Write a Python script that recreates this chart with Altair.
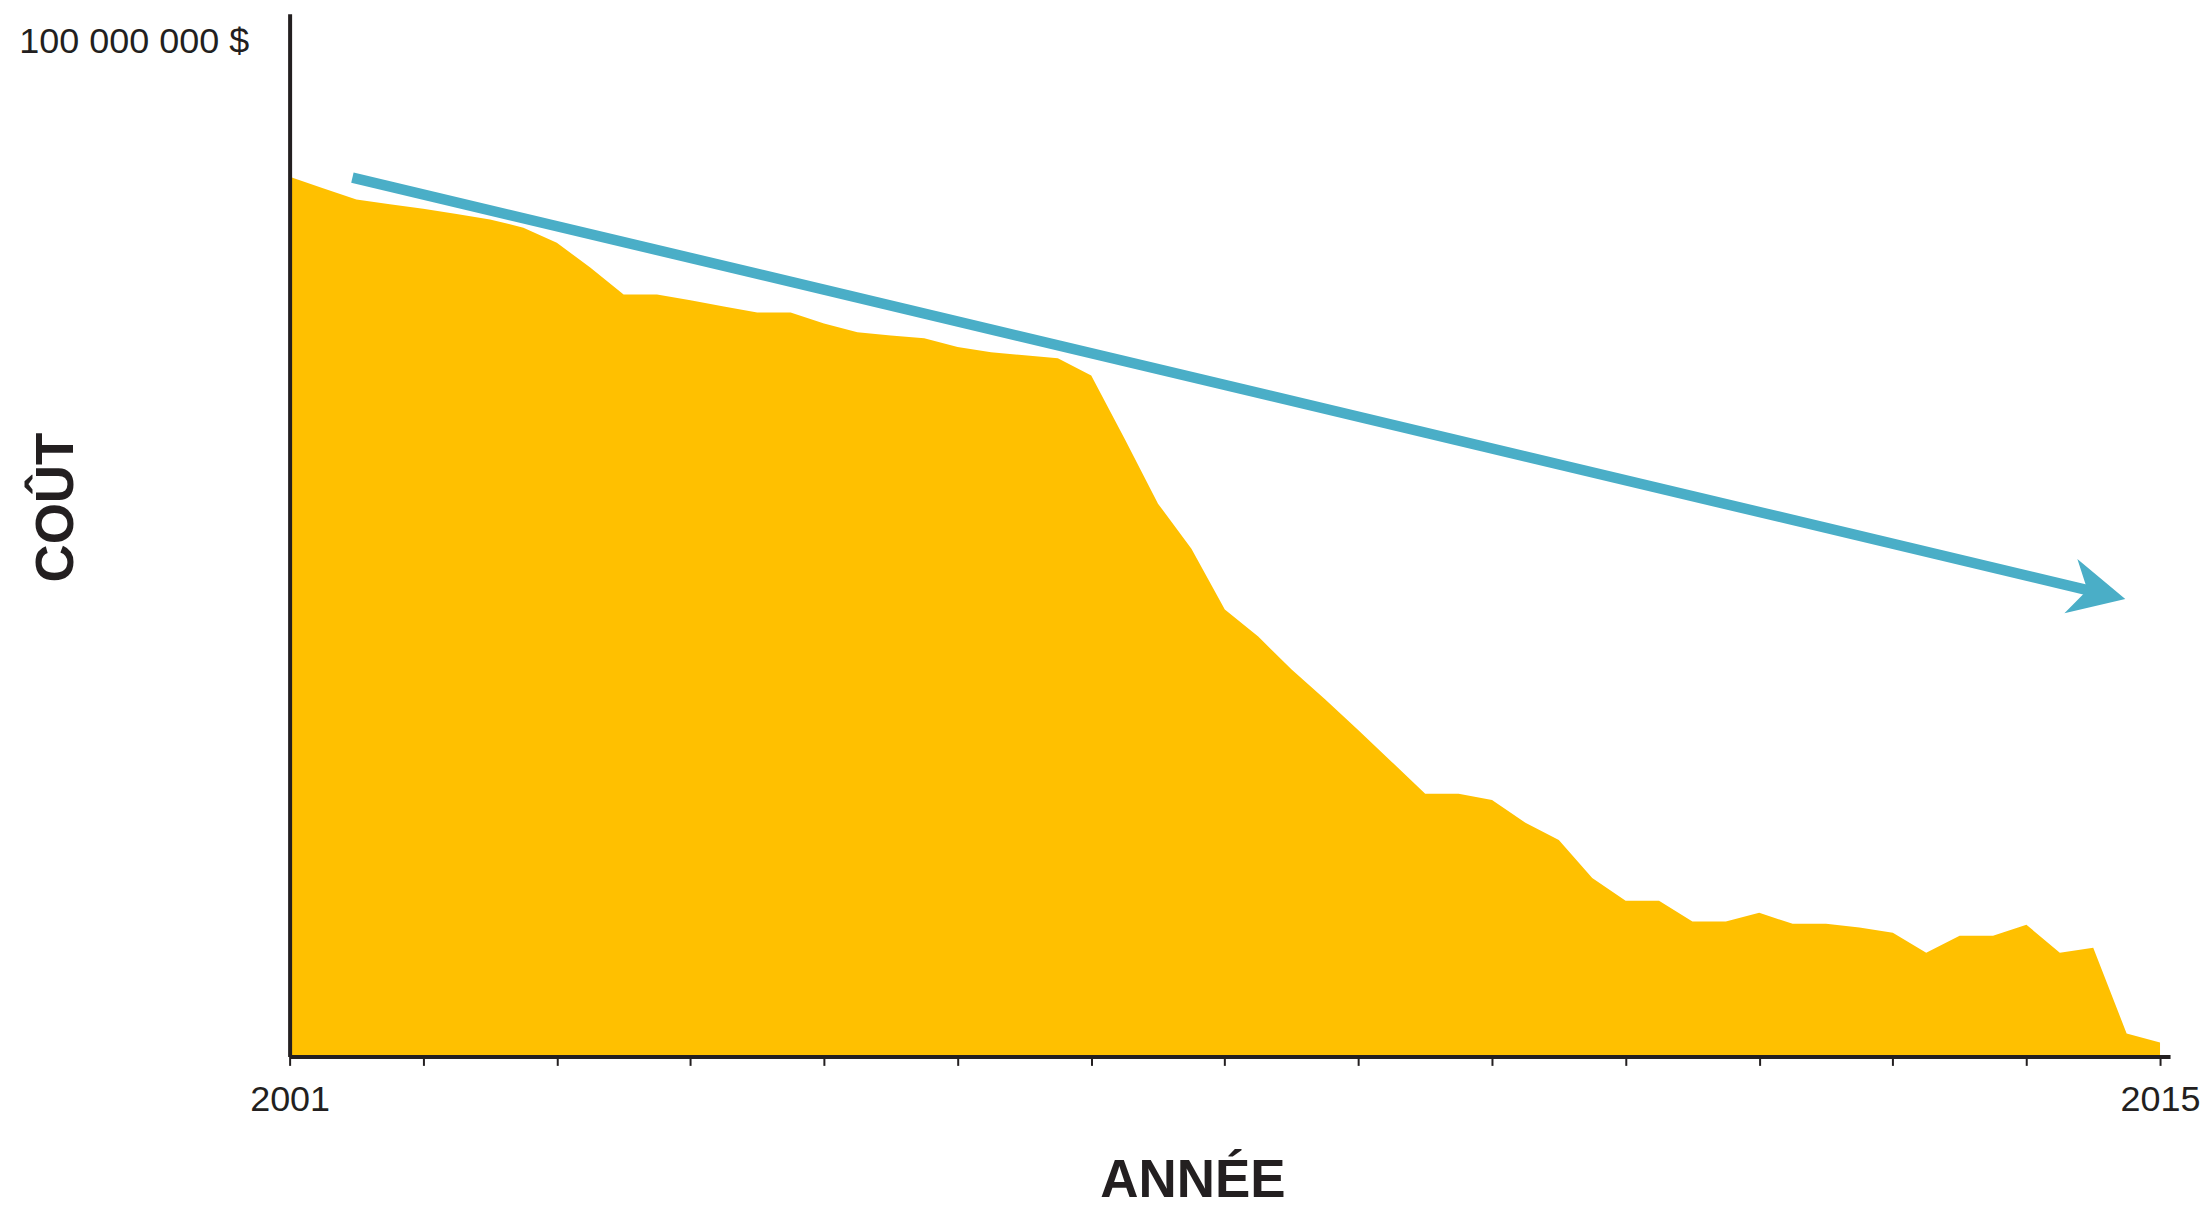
import altair as alt
import pandas as pd

# Quarterly cost data (millions of dollars), 2001 Q1 .. 2015 Q1
quarters = [2001 + i / 4 for i in range(57)]
cost_musd = [86.64, 85.52, 84.41, 83.95, 83.50, 82.98, 82.45, 81.63, 80.16, 77.70,
             75.05, 75.05, 74.49, 73.87, 73.28, 73.28, 72.20, 71.32, 71.02, 70.73,
             69.87, 69.35, 69.06, 68.76, 67.06, 60.83, 54.45, 50.00, 44.01, 41.36,
             38.11, 35.17, 32.12, 29.01, 25.86, 25.86, 25.25, 23.02, 21.32, 17.58,
             15.32, 15.32, 13.29, 13.29, 14.15, 13.06, 13.06, 12.70, 12.18, 10.22,
             11.89, 11.89, 12.97, 10.22, 10.71, 2.26, 1.38]

# Trend arrow (shaft start/end and tip)
trend_year = [2001.47, 2014.52]
trend_musd = [86.57, 45.74]
tip_year = [2014.74]
tip_musd = [45.05]

year_ticks = list(range(2001, 2016))
y_tick = [100_000_000]

df = pd.DataFrame({"annee": quarters, "cout": [v * 1e6 for v in cost_musd]})
df_trend = pd.DataFrame({"annee": trend_year, "cout": [v * 1e6 for v in trend_musd]})
df_tip = pd.DataFrame({"annee": tip_year, "cout": [v * 1e6 for v in tip_musd]})

INK = "#231f20"
FONT = "Liberation Sans"
BLUE = "#4AAEC7"

x_scale = alt.Scale(domain=[2001, 2015.075], nice=False, zero=False)
y_scale = alt.Scale(domain=[0, 102.7e6], nice=False, zero=True)

x_axis = alt.Axis(
    values=year_ticks, format="d",
    labelExpr="datum.value == 2001 || datum.value == 2015 ? datum.label : ''",
    labelFontSize=36, labelFont=FONT, labelColor=INK, labelPadding=17,
    labelAngle=0, labelFlush=False, labelOverlap=False,
    tickSize=9, tickWidth=2, tickColor=INK,
    domainWidth=4, domainColor=INK, grid=False, zindex=1,
    title="ANNÉE", titleX=904, titleY=140, titleAlign="center",
    titleBaseline="alphabetic", titleFontSize=53, titleFontWeight="bold",
    titleFont=FONT, titleColor=INK,
)
y_axis = alt.Axis(
    values=y_tick,
    labelExpr="replace(replace(format(datum.value, ',d'), ',', ' '), ',', ' ') + ' $'",
    labelFontSize=36, labelFont=FONT, labelColor=INK, labelPadding=41,
    labelBaseline="middle", labelLimit=500,
    ticks=False, domainWidth=4, domainColor=INK, grid=False, zindex=1,
    title="COÛT", titleX=-217, titleY=494, titleAngle=270, titleAlign="center",
    titleBaseline="alphabetic", titleFontSize=53, titleFontWeight="bold",
    titleFont=FONT, titleColor=INK,
)

area = alt.Chart(df).mark_area(color="#FFC000", interpolate="linear").encode(
    x=alt.X("annee:Q", scale=x_scale, axis=x_axis),
    y=alt.Y("cout:Q", scale=y_scale, axis=y_axis),
)

trend = alt.Chart(df_trend).mark_line(color=BLUE, strokeWidth=10.5, strokeCap="butt").encode(
    x=alt.X("annee:Q", scale=x_scale),
    y=alt.Y("cout:Q", scale=y_scale),
)

head = alt.Chart(df_tip).mark_point(
    shape="M0,0 L-1,-0.5 L-0.696,0 L-1,0.5 Z",
    size=12544, filled=True, color=BLUE, opacity=1, strokeWidth=0, angle=13.4,
).encode(
    x=alt.X("annee:Q", scale=x_scale),
    y=alt.Y("cout:Q", scale=y_scale),
)

chart = alt.layer(area, trend, head).properties(
    width=1883, height=1044,
    padding={"left": 282, "top": 5, "right": 30, "bottom": 155},
    autosize=alt.AutoSizeParams(type="none"),
    background="white",
).configure_view(stroke=None)

chart.save("out.html", embed_options={"renderer": "svg", "actions": False})
